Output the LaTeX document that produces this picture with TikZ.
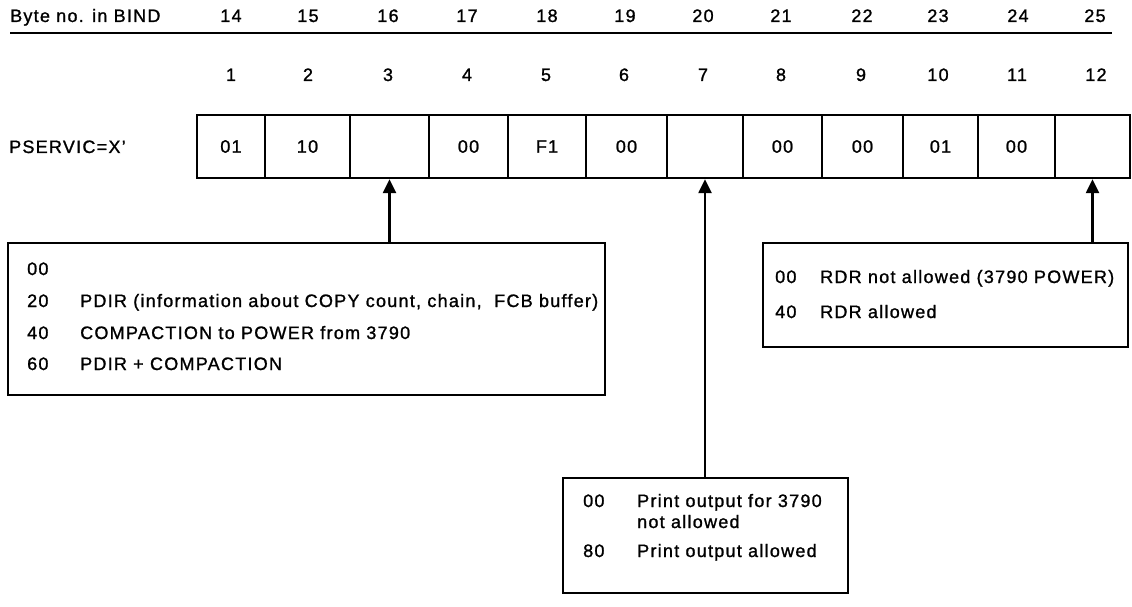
\documentclass[tikz,border=0pt]{standalone}
\usepackage{fontspec}
\setmainfont{Liberation Sans}[LetterSpace=7,FakeBold=1.2]
\usetikzlibrary{arrows.meta}
\begin{document}
\begin{tikzpicture}[x=1pt,y=-1pt,
  font=\fontsize{18}{21}\selectfont,
  cell/.style={draw, line width=2.3pt, minimum height=63pt, inner sep=0pt, anchor=center},
  infobox/.style={draw, line width=2.3pt, inner sep=0pt},
  lbl/.style={anchor=base west, inner sep=0pt},
  num/.style={anchor=base, inner sep=0pt},
  arr/.style={line width=2.3pt, -{Triangle[length=14pt,width=13pt]}}]
\useasboundingbox (0,0) rectangle (1132,607);
% header
\node[lbl] (hdr) at (10,22) {Byte no. in BIND};
\coordinate (ulA) at (10,33);
\coordinate (ulB) at (1112,33);
\draw[line width=2.2pt] (ulA) -- (ulB);
\foreach \n/\x in {14/231,15/308,16/388,17/467,18/547,19/625,20/703,21/781,22/862,23/938,24/1018,25/1095}
  \node[num] (b\n) at (\x,22) {\n};
\foreach \n/\x in {1/231,2/308,3/388,4/467,5/546,6/624,7/703,8/781,9/861,10/938,11/1017,12/1096}
  \node[num] (p\n) at (\x,81) {\n};
\node[lbl] (ps) at (9,153) {PSERVIC=X'};
% cells
\node[cell, minimum width=68pt] (c1) at (231,146.5) {01};
\node[cell, minimum width=85pt] (c2) at (307.5,146.5) {10};
\node[cell, minimum width=79pt] (c3) at (389.5,146.5) {};
\node[cell, minimum width=79pt] (c4) at (468.5,146.5) {00};
\node[cell, minimum width=78pt] (c5) at (547,146.5) {F1};
\node[cell, minimum width=81pt] (c6) at (626.5,146.5) {00};
\node[cell, minimum width=76pt] (c7) at (705,146.5) {};
\node[cell, minimum width=79pt] (c8) at (782.5,146.5) {00};
\node[cell, minimum width=81pt] (c9) at (862.5,146.5) {00};
\node[cell, minimum width=75pt] (c10) at (940.5,146.5) {01};
\node[cell, minimum width=77pt] (c11) at (1016.5,146.5) {00};
\node[cell, minimum width=75pt] (c12) at (1092.5,146.5) {};
% left box
\node[infobox, minimum width=597pt, minimum height=152pt] (lbox) at (306.5,319) {};
\node[lbl] (l1a) at (27,275) {00};
\node[lbl] (l2a) at (27,307) {20};
\node[lbl] (l2b) at (80,307) {PDIR (information about COPY count, chain,\ \ FCB buffer)};
\node[lbl] (l3a) at (27,339) {40};
\node[lbl] (l3b) at (80,339) {COMPACTION to POWER from 3790};
\node[lbl] (l4a) at (27,370) {60};
\node[lbl] (l4b) at (80,370) {PDIR + COMPACTION};
% right box
\node[infobox, minimum width=365pt, minimum height=104pt] (rbox) at (945.5,295) {};
\node[lbl] (r1a) at (775,283) {00};
\node[lbl] (r1b) at (820,283) {RDR not allowed (3790 POWER)};
\node[lbl] (r2a) at (775,318) {40};
\node[lbl] (r2b) at (820,318) {RDR allowed};
% print box
\node[infobox, minimum width=285pt, minimum height=115pt] (pbox) at (705.5,535.5) {};
\node[lbl] (q1a) at (583,507) {00};
\node[lbl] (q1b) at (637,507) {Print output for 3790};
\node[lbl] (q1c) at (637,528) {not allowed};
\node[lbl] (q2a) at (583,557) {80};
\node[lbl] (q2b) at (637,557) {Print output allowed};
% arrows
\draw[arr] (c3.south |- lbox.north) -- (c3.south);
\draw[arr] (c7.south |- pbox.north) -- (c7.south);
\draw[arr] (c12.south |- rbox.north) -- (c12.south);
\end{tikzpicture}
\end{document}
